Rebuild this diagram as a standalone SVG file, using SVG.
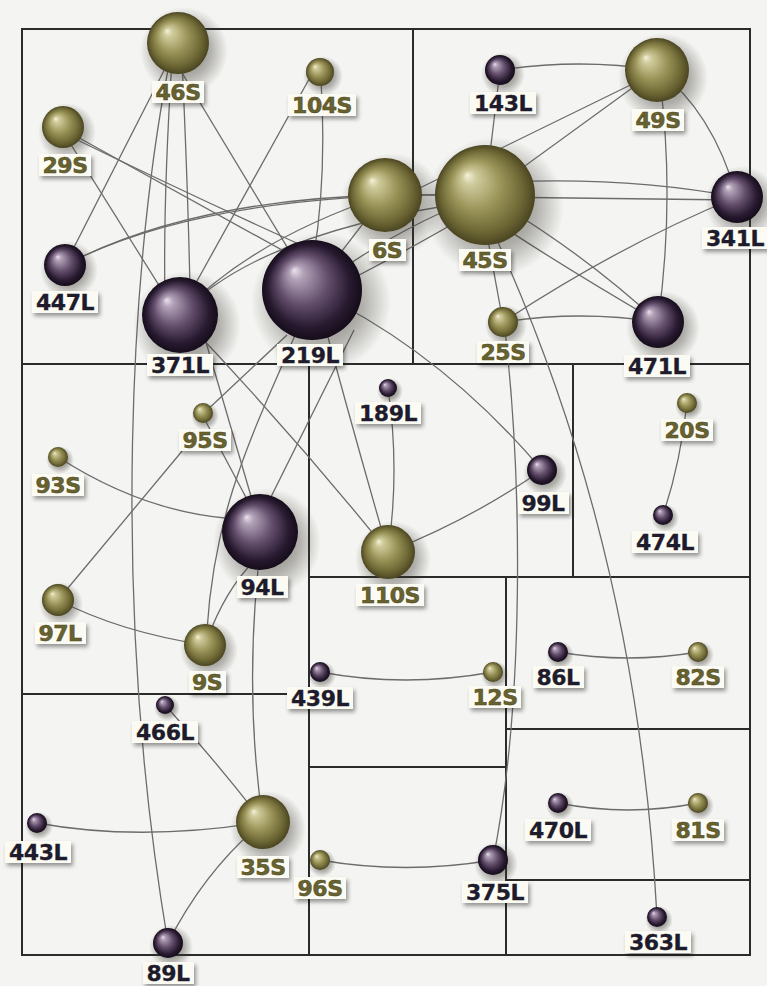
<svg xmlns="http://www.w3.org/2000/svg" width="767" height="986" viewBox="0 0 767 986">
<defs>
<style>
.box{fill:none;stroke:#2b2b2b;stroke-width:2}
.e{fill:none;stroke:#6c6c6c;stroke-width:1.3}
.lb{fill:#fbfbf3;filter:url(#ls)}
.t{font-family:"DejaVu Sans","Liberation Sans",sans-serif;font-weight:bold;font-size:22px;text-anchor:middle;letter-spacing:-0.5px}
.tS{fill:#67622f;stroke:#4a4620;stroke-width:0.5}
.tL{fill:#1e1c2c;stroke:#1e1c2c;stroke-width:0.3}
.sh{fill:url(#gShadow)}
.so{fill:url(#gOlive)}
.sp{fill:url(#gPurple)}
</style>
<radialGradient id="gOlive" cx="0.5" cy="0.5" r="0.5" fx="0.32" fy="0.3">
<stop offset="0" stop-color="#f4f2dc"/>
<stop offset="0.14" stop-color="#d0cb9c"/>
<stop offset="0.5" stop-color="#9a9459"/>
<stop offset="0.82" stop-color="#6c6634"/>
<stop offset="1" stop-color="#4a4522"/>
</radialGradient>
<radialGradient id="gPurple" cx="0.5" cy="0.5" r="0.5" fx="0.32" fy="0.3">
<stop offset="0" stop-color="#ece2ee"/>
<stop offset="0.14" stop-color="#b2a2b8"/>
<stop offset="0.5" stop-color="#634e6c"/>
<stop offset="0.82" stop-color="#281a30"/>
<stop offset="1" stop-color="#150c1a"/>
</radialGradient>
<radialGradient id="gShadow" cx="0.5" cy="0.5" r="0.5">
<stop offset="0" stop-color="#36342a" stop-opacity="0.7"/>
<stop offset="0.6" stop-color="#36342a" stop-opacity="0.35"/>
<stop offset="1" stop-color="#36342a" stop-opacity="0"/>
</radialGradient>
<filter id="ls" x="-30%" y="-40%" width="170%" height="200%">
<feGaussianBlur in="SourceAlpha" stdDeviation="2"/>
<feOffset dx="2" dy="3" result="o"/>
<feComponentTransfer><feFuncA type="linear" slope="0.4"/></feComponentTransfer>
<feMerge><feMergeNode/><feMergeNode in="SourceGraphic"/></feMerge>
</filter>
</defs>
<rect x="0" y="0" width="767" height="986" fill="#f4f4f2"/>
<g id="boxes">
<rect class="box" x="22" y="29" width="728" height="926"/>
<line class="box" x1="413" y1="29" x2="413" y2="364"/>
<line class="box" x1="22" y1="364" x2="750" y2="364"/>
<line class="box" x1="309" y1="364" x2="309" y2="955"/>
<line class="box" x1="22" y1="694" x2="309" y2="694"/>
<line class="box" x1="573" y1="364" x2="573" y2="577"/>
<line class="box" x1="309" y1="577" x2="750" y2="577"/>
<line class="box" x1="506" y1="577" x2="506" y2="955"/>
<line class="box" x1="309" y1="767" x2="506" y2="767"/>
<line class="box" x1="506" y1="729" x2="750" y2="729"/>
<line class="box" x1="506" y1="880" x2="750" y2="880"/>
</g>
<g id="connectors">
<path class="e" d="M178,43 L65,265"/>
<path class="e" d="M172,50 C130,250 110,600 168,943"/>
<path class="e" d="M172,60 Q163,200 165,300"/>
<path class="e" d="M182,60 Q188,190 190,290"/>
<path class="e" d="M164,43 L313,290"/>
<path class="e" d="M60,127 L165,295"/>
<path class="e" d="M63,129 L300,260"/>
<path class="e" d="M63,133 Q200,200 330,258"/>
<path class="e" d="M65,265 Q190,200 385,195"/>
<path class="e" d="M65,265 Q210,190 485,195"/>
<path class="e" d="M313,72 L192,290"/>
<path class="e" d="M321,80 Q327,180 313,260"/>
<path class="e" d="M180,315 Q250,240 385,195"/>
<path class="e" d="M180,315 Q260,230 485,200"/>
<path class="e" d="M312,290 L385,195"/>
<path class="e" d="M312,290 Q400,225 485,195"/>
<path class="e" d="M320,295 Q410,250 485,205"/>
<path class="e" d="M385,195 L485,195"/>
<path class="e" d="M385,205 L657,72"/>
<path class="e" d="M485,195 L657,70"/>
<path class="e" d="M500,70 Q580,58 657,70"/>
<path class="e" d="M485,195 L500,70"/>
<path class="e" d="M485,183 Q620,175 737,197"/>
<path class="e" d="M485,197 L737,200"/>
<path class="e" d="M657,70 Q712,110 737,197"/>
<path class="e" d="M660,80 Q675,200 658,322"/>
<path class="e" d="M485,195 Q580,250 658,322"/>
<path class="e" d="M485,215 Q560,265 658,322"/>
<path class="e" d="M737,197 Q620,245 503,322"/>
<path class="e" d="M503,322 Q580,310 658,322"/>
<path class="e" d="M488,240 L503,322"/>
<path class="e" d="M497,240 C560,380 640,600 657,917"/>
<path class="e" d="M505,330 C522,480 525,700 493,860"/>
<path class="e" d="M312,290 Q440,350 542,470"/>
<path class="e" d="M542,470 Q470,520 388,552"/>
<path class="e" d="M388,388 Q400,470 388,552"/>
<path class="e" d="M318,300 Q350,420 386,545"/>
<path class="e" d="M180,315 Q290,430 388,552"/>
<path class="e" d="M201,325 L255,510"/>
<path class="e" d="M287,335 L204,413"/>
<path class="e" d="M354,330 L262,515"/>
<path class="e" d="M295,335 C260,420 215,500 207,630"/>
<path class="e" d="M255,560 Q225,590 207,640"/>
<path class="e" d="M258,570 Q245,700 263,822"/>
<path class="e" d="M205,420 L250,505"/>
<path class="e" d="M198,432 L58,600"/>
<path class="e" d="M58,457 Q140,510 225,518"/>
<path class="e" d="M58,600 Q120,632 205,645"/>
<path class="e" d="M165,705 Q215,760 263,822"/>
<path class="e" d="M37,823 Q140,842 263,822"/>
<path class="e" d="M263,822 Q205,870 168,943"/>
<path class="e" d="M320,672 Q405,688 493,672"/>
<path class="e" d="M558,652 Q628,664 698,652"/>
<path class="e" d="M558,803 Q628,817 698,803"/>
<path class="e" d="M320,860 Q405,875 493,860"/>
<path class="e" d="M687,403 Q680,465 663,515"/>
</g>
<g id="n29S"><circle class="sh" cx="67" cy="132" r="29"/><circle class="so" cx="63" cy="127" r="21"/><rect class="lb" x="39" y="154" width="52" height="22"/><text class="t tS" x="65" y="173">29S</text></g>
<g id="n447L"><circle class="sh" cx="69" cy="270" r="29"/><circle class="sp" cx="65" cy="265" r="21"/><rect class="lb" x="32" y="291" width="66" height="22"/><text class="t tL" x="65" y="310">447L</text></g>
<g id="n104S"><circle class="sh" cx="323" cy="76" r="20"/><circle class="so" cx="320" cy="72" r="14"/><rect class="lb" x="288" y="94" width="68" height="22"/><text class="t tS" x="322" y="113">104S</text></g>
<g id="n46S"><circle class="sh" cx="184" cy="51" r="44"/><circle class="so" cx="178" cy="43" r="31"/><rect class="lb" x="152" y="81" width="52" height="22"/><text class="t tS" x="178" y="100">46S</text></g>
<g id="n371L"><circle class="sh" cx="187" cy="325" r="54"/><circle class="sp" cx="180" cy="315" r="38"/><rect class="lb" x="147" y="354" width="66" height="22"/><text class="t tL" x="180" y="373">371L</text></g>
<g id="n219L"><circle class="sh" cx="321" cy="302" r="70"/><circle class="sp" cx="312" cy="290" r="50"/><rect class="lb" x="277" y="344" width="66" height="22"/><text class="t tL" x="310" y="363">219L</text></g>
<g id="n6S"><circle class="sh" cx="392" cy="205" r="52"/><circle class="so" cx="385" cy="195" r="37"/><rect class="lb" x="369" y="239" width="37" height="22"/><text class="t tS" x="387" y="258">6S</text></g>
<g id="n143L"><circle class="sh" cx="503" cy="74" r="22"/><circle class="sp" cx="500" cy="70" r="15"/><rect class="lb" x="470" y="92" width="66" height="22"/><text class="t tL" x="503" y="111">143L</text></g>
<g id="n49S"><circle class="sh" cx="663" cy="78" r="45"/><circle class="so" cx="657" cy="70" r="32"/><rect class="lb" x="632" y="109" width="52" height="22"/><text class="t tS" x="658" y="128">49S</text></g>
<g id="n45S"><circle class="sh" cx="494" cy="207" r="70"/><circle class="so" cx="485" cy="195" r="50"/><rect class="lb" x="459" y="249" width="52" height="22"/><text class="t tS" x="485" y="268">45S</text></g>
<g id="n341L"><circle class="sh" cx="742" cy="203" r="37"/><circle class="sp" cx="737" cy="197" r="26"/><rect class="lb" x="702" y="227" width="66" height="22"/><text class="t tL" x="735" y="246">341L</text></g>
<g id="n25S"><circle class="sh" cx="506" cy="326" r="21"/><circle class="so" cx="503" cy="322" r="15"/><rect class="lb" x="477" y="341" width="52" height="22"/><text class="t tS" x="503" y="360">25S</text></g>
<g id="n471L"><circle class="sh" cx="663" cy="328" r="37"/><circle class="sp" cx="658" cy="322" r="26"/><rect class="lb" x="624" y="355" width="66" height="22"/><text class="t tL" x="657" y="374">471L</text></g>
<g id="n189L"><circle class="sh" cx="390" cy="391" r="13"/><circle class="sp" cx="388" cy="388" r="9"/><rect class="lb" x="355" y="402" width="66" height="22"/><text class="t tL" x="388" y="421">189L</text></g>
<g id="n95S"><circle class="sh" cx="205" cy="416" r="14"/><circle class="so" cx="203" cy="413" r="10"/><rect class="lb" x="179" y="429" width="52" height="22"/><text class="t tS" x="205" y="448">95S</text></g>
<g id="n93S"><circle class="sh" cx="60" cy="460" r="14"/><circle class="so" cx="58" cy="457" r="10"/><rect class="lb" x="32" y="474" width="52" height="22"/><text class="t tS" x="58" y="493">93S</text></g>
<g id="n94L"><circle class="sh" cx="267" cy="542" r="54"/><circle class="sp" cx="260" cy="532" r="38"/><rect class="lb" x="237" y="576" width="51" height="22"/><text class="t tL" x="262" y="595">94L</text></g>
<g id="n110S"><circle class="sh" cx="393" cy="559" r="38"/><circle class="so" cx="388" cy="552" r="27"/><rect class="lb" x="356" y="584" width="68" height="22"/><text class="t tS" x="390" y="603">110S</text></g>
<g id="n99L"><circle class="sh" cx="545" cy="474" r="22"/><circle class="sp" cx="542" cy="470" r="15"/><rect class="lb" x="518" y="492" width="51" height="22"/><text class="t tL" x="543" y="511">99L</text></g>
<g id="n20S"><circle class="sh" cx="689" cy="406" r="14"/><circle class="so" cx="687" cy="403" r="10"/><rect class="lb" x="661" y="419" width="52" height="22"/><text class="t tS" x="687" y="438">20S</text></g>
<g id="n474L"><circle class="sh" cx="665" cy="518" r="14"/><circle class="sp" cx="663" cy="515" r="10"/><rect class="lb" x="632" y="531" width="66" height="22"/><text class="t tL" x="665" y="550">474L</text></g>
<g id="n97L"><circle class="sh" cx="61" cy="604" r="22"/><circle class="so" cx="58" cy="600" r="16"/><rect class="lb" x="35" y="622" width="51" height="22"/><text class="t tS" x="60" y="641">97L</text></g>
<g id="n9S"><circle class="sh" cx="209" cy="650" r="29"/><circle class="so" cx="205" cy="645" r="21"/><rect class="lb" x="189" y="671" width="37" height="22"/><text class="t tS" x="207" y="690">9S</text></g>
<g id="n439L"><circle class="sh" cx="322" cy="675" r="14"/><circle class="sp" cx="320" cy="672" r="10"/><rect class="lb" x="287" y="687" width="66" height="22"/><text class="t tL" x="320" y="706">439L</text></g>
<g id="n12S"><circle class="sh" cx="495" cy="675" r="14"/><circle class="so" cx="493" cy="672" r="10"/><rect class="lb" x="469" y="686" width="52" height="22"/><text class="t tS" x="495" y="705">12S</text></g>
<g id="n86L"><circle class="sh" cx="560" cy="655" r="14"/><circle class="sp" cx="558" cy="652" r="10"/><rect class="lb" x="533" y="666" width="51" height="22"/><text class="t tL" x="558" y="685">86L</text></g>
<g id="n82S"><circle class="sh" cx="700" cy="655" r="14"/><circle class="so" cx="698" cy="652" r="10"/><rect class="lb" x="672" y="666" width="52" height="22"/><text class="t tS" x="698" y="685">82S</text></g>
<g id="n466L"><circle class="sh" cx="167" cy="708" r="13"/><circle class="sp" cx="165" cy="705" r="9"/><rect class="lb" x="132" y="721" width="66" height="22"/><text class="t tL" x="165" y="740">466L</text></g>
<g id="n443L"><circle class="sh" cx="39" cy="826" r="14"/><circle class="sp" cx="37" cy="823" r="10"/><rect class="lb" x="5" y="841" width="66" height="22"/><text class="t tL" x="38" y="860">443L</text></g>
<g id="n35S"><circle class="sh" cx="268" cy="829" r="38"/><circle class="so" cx="263" cy="822" r="27"/><rect class="lb" x="237" y="856" width="52" height="22"/><text class="t tS" x="263" y="875">35S</text></g>
<g id="n96S"><circle class="sh" cx="322" cy="863" r="14"/><circle class="so" cx="320" cy="860" r="10"/><rect class="lb" x="294" y="877" width="52" height="22"/><text class="t tS" x="320" y="896">96S</text></g>
<g id="n375L"><circle class="sh" cx="496" cy="864" r="22"/><circle class="sp" cx="493" cy="860" r="15"/><rect class="lb" x="462" y="881" width="66" height="22"/><text class="t tL" x="495" y="900">375L</text></g>
<g id="n470L"><circle class="sh" cx="560" cy="806" r="14"/><circle class="sp" cx="558" cy="803" r="10"/><rect class="lb" x="525" y="819" width="66" height="22"/><text class="t tL" x="558" y="838">470L</text></g>
<g id="n81S"><circle class="sh" cx="700" cy="806" r="14"/><circle class="so" cx="698" cy="803" r="10"/><rect class="lb" x="672" y="819" width="52" height="22"/><text class="t tS" x="698" y="838">81S</text></g>
<g id="n363L"><circle class="sh" cx="659" cy="920" r="14"/><circle class="sp" cx="657" cy="917" r="10"/><rect class="lb" x="625" y="931" width="66" height="22"/><text class="t tL" x="658" y="950">363L</text></g>
<g id="n89L"><circle class="sh" cx="171" cy="947" r="22"/><circle class="sp" cx="168" cy="943" r="15"/><rect class="lb" x="143" y="962" width="51" height="22"/><text class="t tL" x="168" y="981">89L</text></g>
</svg>
